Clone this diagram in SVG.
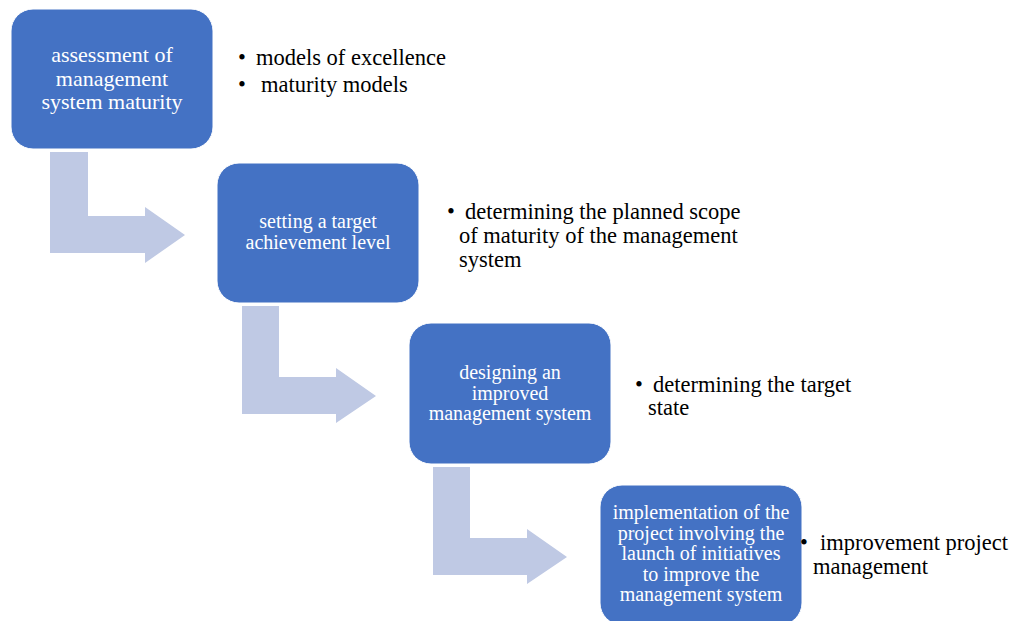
<svg xmlns="http://www.w3.org/2000/svg" width="1011" height="621" viewBox="0 0 1011 621">
<style>
.box{fill:#4472C4;stroke:#ffffff;stroke-width:1}
.arr{fill:#BFC9E4}
.bt{font-family:"Liberation Serif","Times New Roman",serif;fill:#ffffff;text-anchor:middle}
.t{font-family:"Liberation Serif","Times New Roman",serif;fill:#000000;font-size:22.5px}
</style>
<rect width="1011" height="621" fill="#ffffff"/>
<g id="connectors">
<path class="arr" d="M50,152 H88 V216 H145 V207 L185,235 L145,263 V253 H50 Z"/>
<path class="arr" d="M242,306 H279 V377 H336 V368 L376,396 L336,423 V414 H242 Z"/>
<path class="arr" d="M433,467 H470 V538 H527 V529 L567,557 L527,584 V575 H433 Z"/>
</g>
<g id="node1">
<rect class="box" x="11" y="9" width="202" height="140" rx="22"/>
<text class="bt" font-size="22" x="112"><tspan x="112" y="62">assessment of</tspan><tspan x="112" y="85.5">management</tspan><tspan x="112" y="109">system maturity</tspan></text>
</g>
<g id="notes1">
<text class="t" x="238" y="65">•</text><text class="t" x="256" y="65">models of excellence</text>
<text class="t" x="238" y="92">•</text><text class="t" x="261" y="92">maturity models</text>
</g>
<g id="node2">
<rect class="box" x="217" y="163" width="202" height="140" rx="22"/>
<text class="bt" font-size="20"><tspan x="318" y="228">setting a target</tspan><tspan x="318" y="249">achievement level</tspan></text>
</g>
<g id="notes2">
<text class="t" x="447" y="219">•</text><text class="t" x="465" y="219">determining the planned scope</text>
<text class="t" x="459" y="243">of maturity of the management</text>
<text class="t" x="459" y="267">system</text>
</g>
<g id="node3">
<rect class="box" x="409" y="323" width="202" height="141" rx="22"/>
<text class="bt" font-size="20"><tspan x="510" y="379">designing an</tspan><tspan x="510" y="399.5">improved</tspan><tspan x="510" y="420">management system</tspan></text>
</g>
<g id="notes3">
<text class="t" x="635" y="392">•</text><text class="t" x="653" y="392">determining the target</text>
<text class="t" x="648" y="415">state</text>
</g>
<g id="node4">
<rect class="box" x="600" y="485" width="202" height="140" rx="22"/>
<text class="bt" font-size="20"><tspan x="701" y="519">implementation of the</tspan><tspan x="701" y="540">project involving the</tspan><tspan x="701" y="560">launch of initiatives</tspan><tspan x="701" y="581">to improve the</tspan><tspan x="701" y="601">management system</tspan></text>
</g>
<g id="notes4">
<text class="t" x="800" y="550">•</text><text class="t" x="820" y="550">improvement project</text>
<text class="t" x="813" y="574">management</text>
</g>
</svg>
